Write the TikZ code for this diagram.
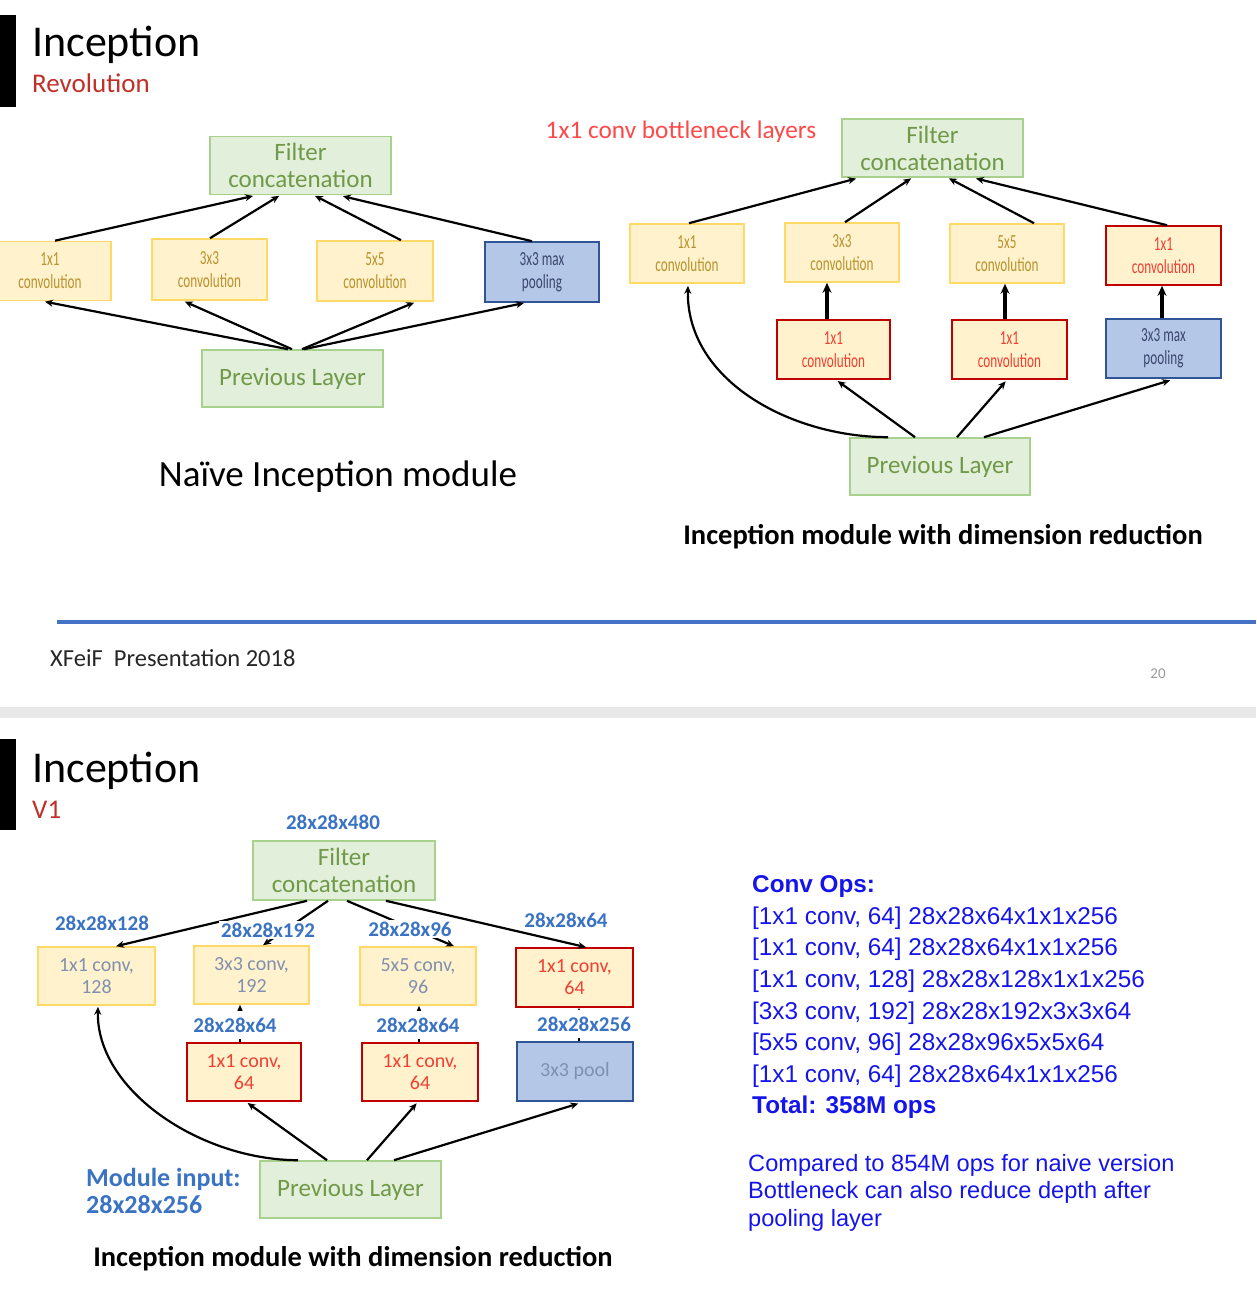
\documentclass[tikz,border=0pt]{standalone}
\usepackage{fontspec}
\setmainfont{Carlito}
\newfontfamily\arialfont{Liberation Sans}
\newfontfamily\narrowfont[FakeStretch=0.66]{Carlito}
\usetikzlibrary{arrows.meta,positioning}

\newcommand{\setfs}[2]{\fontsize{#1}{#2}\selectfont}

\definecolor{boxgreen}{RGB}{226,239,218}
\definecolor{linegreen}{RGB}{169,209,142}
\definecolor{textgreen}{RGB}{112,153,72}
\definecolor{boxyellow}{RGB}{255,242,204}
\definecolor{lineyellow}{RGB}{255,217,102}
\definecolor{textgold}{RGB}{184,146,46}
\definecolor{linered}{RGB}{192,0,0}
\definecolor{textred}{RGB}{240,64,52}
\definecolor{boxblue}{RGB}{180,199,231}
\definecolor{lineblue}{RGB}{47,85,151}
\definecolor{textnavy}{RGB}{58,70,110}
\definecolor{textslate}{RGB}{128,144,176}
\definecolor{dimblue}{RGB}{58,114,196}
\definecolor{opsblue}{RGB}{20,20,235}
\definecolor{titlered}{RGB}{192,48,40}
\definecolor{notered}{RGB}{255,72,72}
\definecolor{rulegray}{RGB}{232,232,232}
\definecolor{ruleblue}{RGB}{68,114,196}

\begin{document}
\begin{tikzpicture}[
  x=1pt, y=-1pt,
  txt/.style={inner sep=0pt},
  box/.style={draw, line width=1.6pt, inner sep=0pt, align=center},
  concat/.style={box, fill=boxgreen, draw=linegreen, text=textgreen, minimum width=181pt, minimum height=58pt, font=\setfs{25}{27}},
  prev/.style={concat, minimum height=57pt},
  conv/.style={box, fill=boxyellow, draw=lineyellow, text=textgold, minimum width=114pt, minimum height=59pt, font=\narrowfont\setfs{20}{23}},
  redconv/.style={conv, draw=linered, text=textred},
  pool/.style={box, fill=boxblue, draw=lineblue, text=textnavy, minimum width=114pt, minimum height=59pt, font=\narrowfont\setfs{20}{23}},
  vone/.style={font=\setfs{20}{22}},
  arr/.style={-{Stealth[length=8pt,width=7pt]}, line width=2.2pt},
  bigarr/.style={-{Stealth[length=10pt,width=9pt]}, line width=3.4pt},
  dim/.style={fill=white, inner sep=2pt, text=dimblue, font=\bfseries\setfs{21}{23}},
  lowdim/.style={dim, inner ysep=7pt},
  caption/.style={txt, font=\bfseries\setfs{28.5}{31}}
]
\useasboundingbox (0,0) rectangle (1256,1308);

% slide 20 header
\fill (0,15) rectangle (16,107);
\node[txt, anchor=base west, font=\setfs{44}{48}] (head1) at (32,57) {Inception};
\node[txt, anchor=base west, text=titlered, font=\setfs{27}{30}] (sub1) at (32,93) {Revolution};

% naive module
\node[concat] (ncat) at (300.5,165.5) {Filter\\concatenation};
\node[conv, minimum width=122pt] (n1) at (50,271) {1x1\\convolution};
\node[conv, minimum width=115pt, minimum height=61pt] (n3) at (209.5,269.5) {3x3\\convolution};
\node[conv, minimum width=116pt, minimum height=60pt] (n5) at (375,271) {5x5\\convolution};
\node[pool, minimum height=60pt] (npool) at (542,272) {3x3 max\\pooling};
\node[prev] (nprev) at (292.5,378.5) {Previous Layer};
\node[txt, font=\setfs{37}{40}] (ncap) at (338,477) {Naïve Inception module};

\draw[arr, shorten >=3pt] ([xshift=5pt]n1.north) -- ([xshift=-44.5pt]ncat.south);
\draw[arr, shorten >=1pt] ([xshift=0.5pt]n3.north) -- ([xshift=-20.5pt]ncat.south);
\draw[arr, shorten >=1pt] ([xshift=26pt]n5.north) -- ([xshift=13.5pt]ncat.south);
\draw[arr, shorten >=4pt] ([xshift=-10pt]npool.north) -- ([xshift=38.5pt]ncat.south);
\draw[arr, shorten >=2pt] ([xshift=-4.5pt]nprev.north) -- ([xshift=-7pt]n1.south);
\draw[arr, shorten >=2pt] ([xshift=-0.5pt]nprev.north) -- ([xshift=-26.5pt]n3.south);
\draw[arr, shorten >=2pt] ([xshift=9.5pt]nprev.north) -- ([xshift=41pt]n5.south);
\draw[arr, shorten >=1pt] ([xshift=11.5pt]nprev.north) -- ([xshift=-17pt]npool.south);

% module with dimension reduction
\node[txt, text=notered, font=\setfs{25.3}{28}] (neck) at (681,132) {1x1 conv bottleneck layers};
\node[concat] (rcat) at (932.5,148) {Filter\\concatenation};
\node[conv] (r1) at (687,253.5) {1x1\\convolution};
\node[conv] (r3) at (842,252.5) {3x3\\convolution};
\node[conv] (r5) at (1007,253.5) {5x5\\convolution};
\node[redconv, minimum width=115pt] (r1p) at (1163.5,255.5) {1x1\\convolution};
\node[redconv, minimum width=113pt] (rr3) at (833.5,349.5) {1x1\\convolution};
\node[redconv, minimum width=115pt] (rr5) at (1009.5,349.5) {1x1\\convolution};
\node[pool, minimum width=115pt] (rpool) at (1163.5,348.5) {3x3 max\\pooling};
\node[prev, minimum width=180pt] (rprev) at (940,466.5) {Previous Layer};
\node[caption] (rcap) at (943,537) {Inception module with dimension reduction};

\draw[arr, shorten >=3pt] ([xshift=2pt]r1.north) -- ([xshift=-73.5pt]rcat.south);
\draw[arr, shorten >=1pt] ([xshift=3pt]r3.north) -- ([xshift=-20.5pt]rcat.south);
\draw[arr, shorten >=1pt] ([xshift=27pt]r5.north) -- ([xshift=15.5pt]rcat.south);
\draw[arr, shorten >=3pt] ([xshift=3.5pt]r1p.north) -- ([xshift=40.5pt]rcat.south);
\draw[bigarr] ([xshift=-6.5pt]rr3.north) -- ([xshift=-15pt]r3.south);
\draw[bigarr] ([xshift=-4.5pt]rr5.north) -- ([xshift=-2pt]r5.south);
\draw[bigarr] ([xshift=-1.5pt]rpool.north) -- ([xshift=-1.5pt]r1p.south);
\draw[arr, shorten >=2pt] ([xshift=-52pt]rprev.north) .. controls (790,437) and (686,380) .. ([xshift=1pt]r1.south);
\draw[arr, shorten >=2pt] ([xshift=-25pt]rprev.north) -- ([xshift=2.5pt]rr3.south);
\draw[arr, shorten >=2pt] ([xshift=17pt]rprev.north) -- ([xshift=-2.5pt]rr5.south);
\draw[arr, shorten >=5pt] ([xshift=44pt]rprev.north) -- ([xshift=11.5pt]rpool.south);

% footer
\draw[line width=4pt, ruleblue] (57,622) -- (1256,622);
\node[txt, anchor=west, text=black!85, font=\setfs{24.5}{28}] (foot) at (50,658) {XFeiF\ \ Presentation 2018};
\node[txt, text=black!40, font=\setfs{15}{18}] (page) at (1158,674) {20};
\fill[rulegray] (0,707) rectangle (1256,718);

% slide 21 header
\fill (0,739) rectangle (16,830);
\node[txt, anchor=base west, font=\setfs{44}{48}] (head2) at (32,782) {Inception};
\node[txt, anchor=base west, text=titlered, font=\setfs{27}{30}] (sub2) at (32,818) {V1};

% v1 module
\node[concat, minimum width=182pt, minimum height=59pt] (vcat) at (344,870.5) {Filter\\concatenation};
\node[conv, vone, text=textslate, minimum width=117pt, minimum height=58pt] (v1) at (96.5,976) {1x1 conv,\\128};
\node[conv, vone, text=textslate, minimum width=115pt, minimum height=58pt] (v3) at (251.5,975) {3x3 conv,\\192};
\node[conv, vone, text=textslate, minimum width=116pt, minimum height=58pt] (v5) at (418,976) {5x5 conv,\\96};
\node[redconv, vone, minimum width=117pt] (v1p) at (574.5,977.5) {1x1 conv,\\64};
\node[redconv, vone, minimum width=114pt, minimum height=58pt] (vr3) at (244,1072) {1x1 conv,\\64};
\node[redconv, vone, minimum width=116pt, minimum height=58pt] (vr5) at (420,1072) {1x1 conv,\\64};
\node[pool, vone, text=textslate, minimum width=116pt] (vpool) at (575,1071.5) {3x3 pool};
\node[prev] (vprev) at (350.5,1189.5) {Previous Layer};

\draw[arr] ([xshift=-37pt]vcat.south) -- ([xshift=19.5pt]v1.north);
\draw[arr] ([xshift=-16pt]vcat.south) -- ([xshift=11.5pt]v3.north);
\draw[arr] ([xshift=3pt]vcat.south) -- ([xshift=36pt]v5.north);
\draw[arr] ([xshift=42pt]vcat.south) -- ([xshift=11.5pt]v1p.north);
\draw[arr] ([xshift=-4pt]vr3.north) -- ([xshift=-11.5pt]v3.south);
\draw[arr] ([xshift=-1pt]vr5.north) -- ([xshift=1pt]v5.south);
\draw[arr] ([xshift=4pt]vpool.north) -- ([xshift=4.5pt]v1p.south);
\draw[arr, shorten >=1pt] ([xshift=-52.5pt]vprev.north) .. controls (200,1160) and (96,1090) .. ([xshift=1.5pt]v1.south);
\draw[arr, shorten >=2pt] ([xshift=-23.5pt]vprev.north) -- ([xshift=2pt]vr3.south);
\draw[arr, shorten >=2pt] ([xshift=16.5pt]vprev.north) -- ([xshift=-2pt]vr5.south);
\draw[arr, shorten >=6pt] ([xshift=43.5pt]vprev.north) -- ([xshift=9pt]vpool.south);

% tensor sizes
\node[dim] (d480) at (333,822) {28x28x480};
\node[dim] (d128) at (102,923) {28x28x128};
\node[dim] (d192) at (268,930) {28x28x192};
\node[dim] (d96) at (410,929) {28x28x96};
\node[dim] (d64a) at (566,920) {28x28x64};
\node[lowdim] (d64b) at (235,1025) {28x28x64};
\node[lowdim] (d64c) at (418,1025) {28x28x64};
\node[lowdim] (d256) at (584,1024) {28x28x256};
\node[txt, anchor=north west, align=left, text=dimblue, font=\bfseries\setfs{26}{27}] (vin) at (86,1168) {Module input:\\28x28x256};
\node[caption] (vcap) at (353,1259) {Inception module with dimension reduction};

% op counts
\node[txt, anchor=north west, align=left, text=opsblue, font=\arialfont\setfs{24.3}{31.6}] (ops) at (752,875.5)
  {\textbf{Conv Ops:}\\
   {[}1x1 conv, 64] 28x28x64x1x1x256\\
   {[}1x1 conv, 64] 28x28x64x1x1x256\\
   {[}1x1 conv, 128] 28x28x128x1x1x256\\
   {[}3x3 conv, 192] 28x28x192x3x3x64\\
   {[}5x5 conv, 96] 28x28x96x5x5x64\\
   {[}1x1 conv, 64] 28x28x64x1x1x256\\
   \textbf{Total: 358M ops}};
\node[txt, anchor=north west, align=left, text=opsblue, font=\arialfont\setfs{23.6}{27.5}] (note) at (748,1154)
  {Compared to 854M ops for naive version\\
   Bottleneck can also reduce depth after\\
   pooling layer};
\end{tikzpicture}
\end{document}
